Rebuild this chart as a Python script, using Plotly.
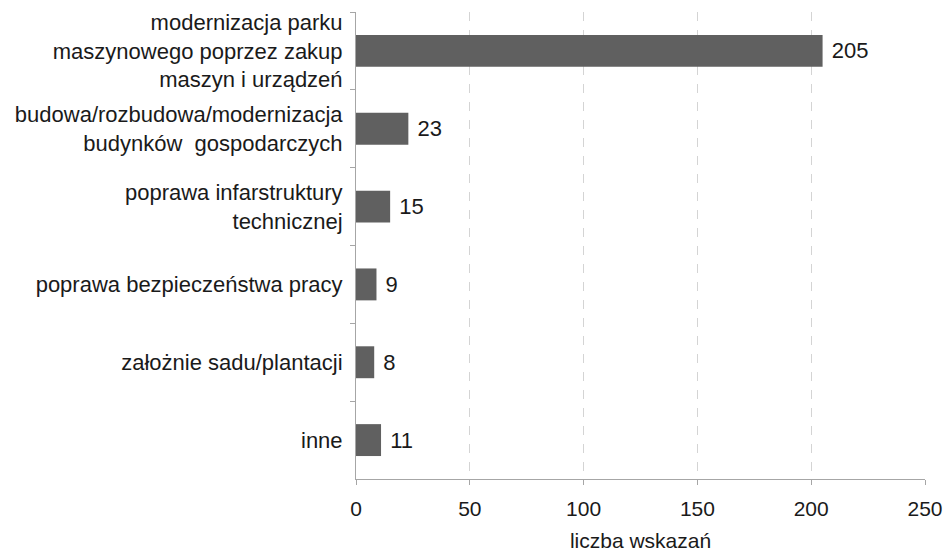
import plotly.graph_objects as go

categories = [
    "modernizacja parku<br>maszynowego poprzez zakup<br>maszyn i urządzeń",
    "budowa/rozbudowa/modernizacja<br>budynków  gospodarczych",
    "poprawa infarstruktury<br>technicznej",
    "poprawa bezpieczeństwa pracy",
    "założnie sadu/plantacji",
    "inne",
]
values = [205, 23, 15, 9, 8, 11]
x_ticks = [0, 50, 100, 150, 200, 250]
x_title = "liczba wskazań"

fig = go.Figure(go.Bar(
    y=categories,
    x=values,
    orientation="h",
    marker=dict(color="#606060", line=dict(width=0)),
    text=[" " + str(v) for v in values],
    textposition="outside",
    textfont=dict(size=22, color="#1a1a1a"),
    cliponaxis=False,
    width=0.41,
))

fig.update_layout(
    width=944, height=555,
    margin=dict(l=356, r=19, t=12, b=76, autoexpand=False),
    paper_bgcolor="white", plot_bgcolor="white",
    font=dict(family="Arial, Liberation Sans, sans-serif", size=22, color="#1a1a1a"),
    showlegend=False,
    xaxis=dict(
        range=[0, 250], tickvals=x_ticks, ticktext=[str(t) for t in x_ticks],
        showgrid=True, gridcolor="#d4d4d4", griddash="dash", gridwidth=1,
        showline=True, linecolor="#a6a6a6", linewidth=1,
        ticks="outside", ticklen=5, tickcolor="#a6a6a6",
        ticklabelstandoff=6,
        zeroline=False,
        title=dict(text=x_title, font=dict(size=21), standoff=14),
        tickfont=dict(size=21),
    ),
    yaxis=dict(
        categoryorder="array", categoryarray=categories,
        autorange="reversed",
        showline=True, linecolor="#a6a6a6", linewidth=1,
        ticks="outside", ticklen=5, tickcolor="#a6a6a6",
        tickson="boundaries",
        ticklabelstandoff=8,
        showgrid=False, zeroline=False,
        tickfont=dict(size=22),
    ),
)

fig.write_html(
    "out.html",
    config={"displayModeBar": False},
    post_script="document.body.style.margin='0';document.body.style.overflow='hidden';",
)
